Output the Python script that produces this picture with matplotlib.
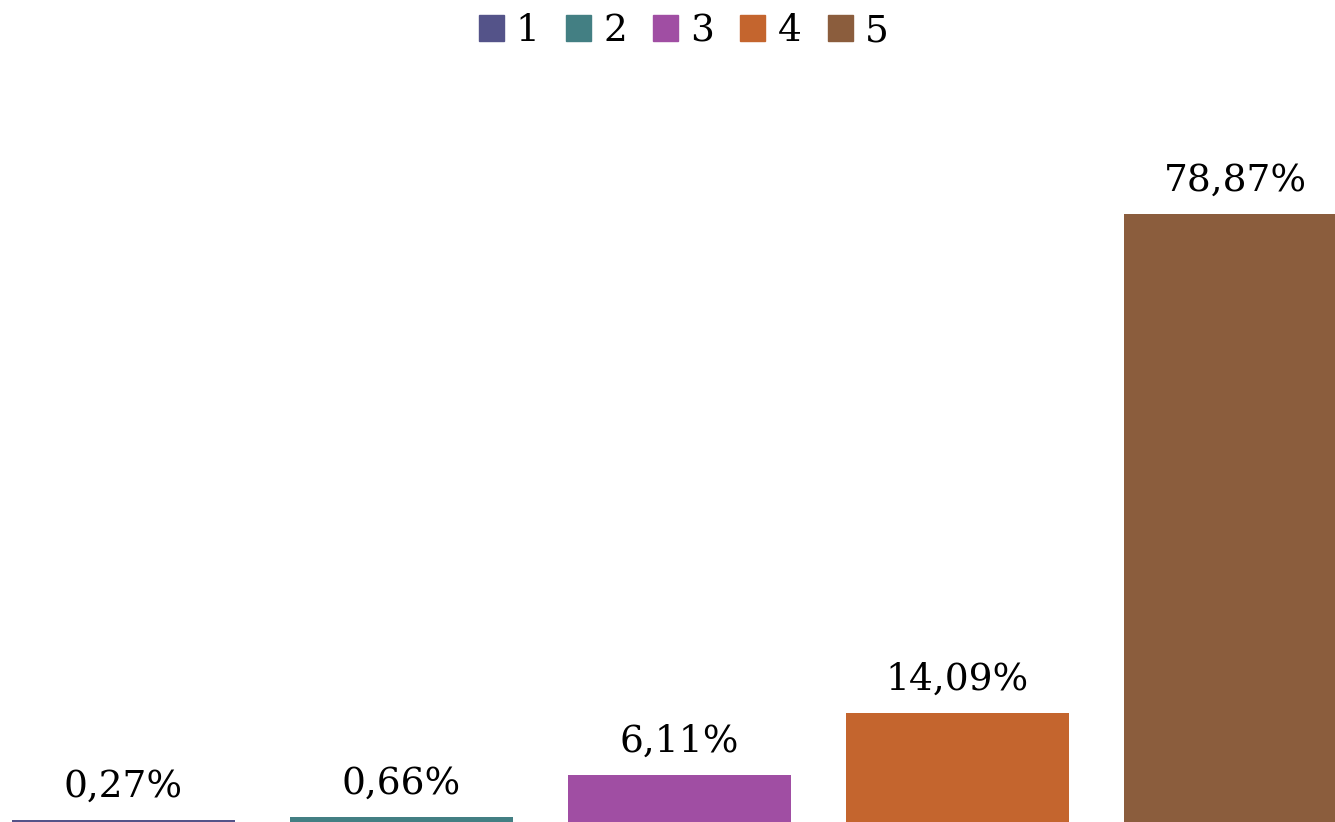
import matplotlib.pyplot as plt
from matplotlib.patches import Patch

categories = ['1', '2', '3', '4', '5']
values = [0.27, 0.66, 6.11, 14.09, 78.87]
labels = ['0,27%', '0,66%', '6,11%', '14,09%', '78,87%']
colors = ['#545389', '#437F83', '#A04EA3', '#C4652E', '#8B5D3D']

plt.rcParams['font.family'] = ['DejaVu Serif']

fig = plt.figure(figsize=(13.35, 8.22), dpi=100)
ax = fig.add_axes([0, 0, 1, 1])

x = list(range(len(categories)))
bars = ax.bar(x, values, width=0.802, color=colors)

# value labels above each bar
for b, lab in zip(bars, labels):
    ax.annotate(lab, (b.get_x() + b.get_width() / 2, b.get_height()),
                xytext=(0, 11), textcoords='offset points',
                ha='center', va='bottom', fontsize=27)

ax.set_xlim(-0.444, 4.358)
ax.set_ylim(0, 106.6)
ax.axis('off')

handles = [Patch(color=c, label=n) for c, n in zip(colors, categories)]
fig.legend(handles=handles, loc='upper center', bbox_to_anchor=(0.512, 0.991),
           ncol=5, frameon=False, fontsize=27, handlelength=0.67, handleheight=0.67,
           handletextpad=0.32, columnspacing=0.7, borderaxespad=0.0,
           borderpad=0.15)

fig.savefig('out.png', dpi=100)
